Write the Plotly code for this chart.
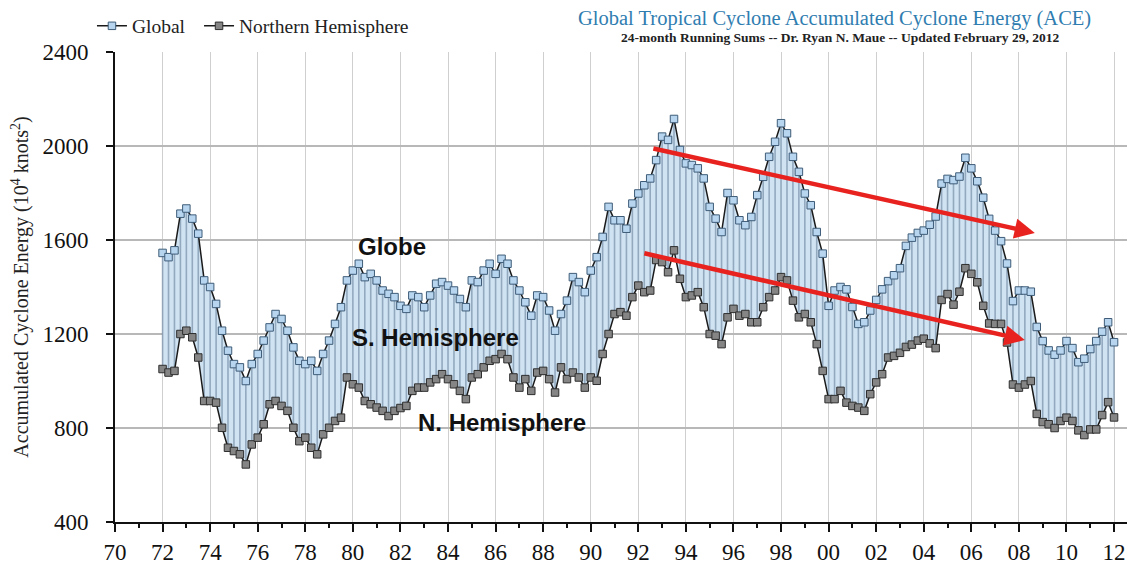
import plotly.graph_objects as go

# quarterly samples, 1972.00 .. 2012.00
start_year = 1972.0
step = 0.25

global_ace = [
    1545, 1527, 1556, 1712,
    1734, 1691, 1627, 1428,
    1400, 1328, 1214, 1129,
    1072, 1058, 1000, 1072,
    1115, 1172, 1228, 1285,
    1264, 1214, 1143, 1086,
    1072, 1086, 1043, 1115,
    1172, 1243, 1314, 1428,
    1470, 1499, 1442, 1456,
    1428, 1385, 1371, 1357,
    1320, 1307, 1364, 1357,
    1314, 1364, 1414, 1421,
    1406, 1385, 1349, 1314,
    1428, 1421, 1470, 1499,
    1456, 1520, 1499, 1428,
    1385, 1335, 1278, 1364,
    1357, 1300, 1214, 1285,
    1342, 1442, 1421, 1378,
    1470, 1527, 1613, 1741,
    1684, 1684, 1648, 1755,
    1798, 1833, 1862, 1940,
    2040, 2026, 2115, 1983,
    1926, 1919, 1905, 1862,
    1741, 1691, 1634, 1800,
    1769, 1684, 1663, 1698,
    1791, 1869, 1954, 2018,
    2097, 2054, 1954, 1890,
    1798, 1748, 1634, 1542,
    1320, 1385, 1400, 1390,
    1315, 1243, 1250, 1300,
    1345, 1390, 1425, 1450,
    1480, 1575, 1610, 1630,
    1640, 1665, 1700, 1840,
    1860, 1855, 1870, 1950,
    1905, 1850, 1780, 1690,
    1640, 1595, 1500, 1340,
    1385, 1385, 1380, 1230,
    1170, 1130, 1112, 1130,
    1170, 1140, 1080, 1095,
    1136, 1170, 1210, 1250,
    1165,
]

nh_ace = [
    1051, 1036, 1043, 1200,
    1214, 1186, 1100, 915,
    915, 908, 801, 716,
    702, 688, 645, 730,
    759, 816, 901, 915,
    894, 873, 801, 744,
    759, 716, 688, 773,
    801, 830, 844, 1015,
    986, 972, 915, 901,
    887, 873, 851, 873,
    885, 894, 958, 972,
    972, 994, 1008, 1029,
    1008, 986, 958, 923,
    1015, 1029, 1058, 1086,
    1093, 1115, 1093, 1015,
    972, 1008, 958, 1036,
    1043, 1008, 951, 1058,
    1008, 1036, 1015, 972,
    1015, 1001, 1115, 1200,
    1285, 1293, 1278, 1357,
    1406, 1378, 1385, 1515,
    1506, 1463, 1556, 1435,
    1357, 1364, 1378, 1314,
    1200, 1193, 1157, 1271,
    1307, 1278, 1285, 1250,
    1250, 1314, 1357, 1385,
    1442, 1428, 1342, 1271,
    1285, 1250, 1157, 1043,
    923, 923, 958, 908,
    894, 887, 873, 944,
    994, 1029, 1100, 1107,
    1120, 1145, 1155, 1172,
    1180, 1160, 1140, 1345,
    1370, 1325, 1380, 1480,
    1456, 1420, 1320, 1245,
    1243, 1243, 1164, 985,
    972, 985, 1000, 860,
    825, 816, 800, 830,
    844, 830, 790, 770,
    794, 794, 855, 910,
    845,
]

x_tick_years = list(range(1970, 2013, 2))
x_tick_labels = ["70", "72", "74", "76", "78", "80", "82", "84", "86", "88", "90",
                 "92", "94", "96", "98", "00", "02", "04", "06", "08", "10", "12"]
y_tick_values = [400, 800, 1200, 1600, 2000, 2400]

# trend arrows: (x_tail, y_tail, x_head, y_head)
trend_arrows = [
    (1992.57, 1991, 2008.67, 1630),
    (1992.19, 1545, 2008.25, 1174),
]
region_labels = [
    ("Globe", 1981.64, 1574),
    ("S. Hemisphere", 1983.49, 1187),
    ("N. Hemisphere", 1986.27, 825),
]

years = [start_year + i * step for i in range(len(global_ace))]

serif = "Liberation Serif"

fig = go.Figure()

# fill base
fig.add_trace(go.Scatter(x=years, y=nh_ace, mode="lines", line=dict(width=0, color="rgba(0,0,0,0)"),
                         showlegend=False, hoverinfo="skip"))
fig.add_trace(go.Scatter(x=years, y=global_ace, mode="lines", line=dict(width=0, color="rgba(0,0,0,0)"),
                         fill="tonexty", fillcolor="#d0e3f3", showlegend=False, hoverinfo="skip"))

# high-low drop lines
sx, sy = [], []
for xv, lo, hi in zip(years, nh_ace, global_ace):
    sx += [xv, xv, None]
    sy += [lo, hi, None]
fig.add_trace(go.Scatter(x=sx, y=sy, mode="lines", line=dict(width=1.6, color="rgba(105,130,155,0.6)"),
                         showlegend=False, hoverinfo="skip"))

fig.add_trace(go.Scatter(
    x=years, y=global_ace, mode="lines+markers", name="Global", legend="legend",
    line=dict(color="#1a1a1a", width=1.5),
    marker=dict(symbol="square", size=7.5, color="#b7d5ef", line=dict(color="#3e5c78", width=1)),
))
fig.add_trace(go.Scatter(
    x=years, y=nh_ace, mode="lines+markers", name="Northern Hemisphere", legend="legend2",
    line=dict(color="#1a1a1a", width=1.5),
    marker=dict(symbol="square", size=7.5, color="#858585", line=dict(color="#2e2e2e", width=1)),
))

annotations = []
for (x0, y0, x1, y1) in trend_arrows:
    annotations.append(dict(
        x=x1, y=y1, ax=x0, ay=y0, xref="x", yref="y", axref="x", ayref="y",
        text="", showarrow=True, arrowhead=2, arrowsize=0.9, arrowwidth=4.5,
        arrowcolor="#e8231f", standoff=0, startstandoff=0,
    ))
for (txt, xv, yv) in region_labels:
    annotations.append(dict(
        x=xv, y=yv, xref="x", yref="y", text="<b>%s</b>" % txt, showarrow=False,
        xanchor="center", yanchor="middle",
        font=dict(family="Liberation Sans, Arial", size=24, color="#111111"),
    ))

annotations.append(dict(
    x=0.709, y=1.072, xref="paper", yref="paper", showarrow=False,
    xanchor="center", yanchor="middle",
    text="Global Tropical Cyclone Accumulated Cyclone Energy (ACE)",
    font=dict(family=serif, size=20.5, color="#2f7db0"),
))
annotations.append(dict(
    x=0.714, y=1.031, xref="paper", yref="paper", showarrow=False,
    xanchor="center", yanchor="middle",
    text="<b>24-month Running Sums -- Dr. Ryan N. Maue -- Updated February 29, 2012</b>",
    font=dict(family=serif, size=13.5, color="#222222"),
))

legend_style = dict(orientation="h", xanchor="left", yanchor="middle", y=1.055,
                    font=dict(family=serif, size=19.5, color="#222222"),
                    bgcolor="rgba(0,0,0,0)")

# page is offset by the default 8px body margin, so the figure is 8px smaller
fig.update_layout(
    width=1127, height=558,
    margin=dict(l=107, r=5, t=44, b=44, autoexpand=False),
    paper_bgcolor="white", plot_bgcolor="white",
    font=dict(family=serif, color="#222222"),
    showlegend=True,
    legend=dict(x=-0.0227, **legend_style),
    legend2=dict(x=0.0828, **legend_style),
    annotations=annotations,
)

fig.update_xaxes(
    range=[1970, 2012.67], automargin=False,
    tickmode="array", tickvals=x_tick_years, ticktext=x_tick_labels,
    ticks="outside", ticklen=8, tickwidth=2, tickcolor="#111111",
    minor=dict(dtick=1, tick0=1970, ticks="outside", ticklen=4, tickwidth=2, tickcolor="#111111", showgrid=False),
    showgrid=True, gridcolor="#cfcfcf", gridwidth=1,
    showline=True, linecolor="#111111", linewidth=2,
    tickfont=dict(family=serif, size=23, color="#111111"),
    zeroline=False,
)
fig.update_yaxes(
    range=[400, 2400], automargin=False,
    tickmode="array", tickvals=y_tick_values,
    ticks="outside", ticklen=7, tickwidth=1.5, tickcolor="#111111",
    showgrid=True, gridcolor="#b8b8b8", gridwidth=1.5,
    showline=True, linecolor="#111111", linewidth=2,
    tickfont=dict(family=serif, size=23, color="#111111"),
    ticklabelstandoff=13,
    title=dict(text="Accumulated Cyclone Energy (10<sup>4</sup> knots<sup>2</sup>)",
               font=dict(family=serif, size=20, color="#222222"), standoff=12),
    zeroline=False,
)

fig.write_html("out.html")
